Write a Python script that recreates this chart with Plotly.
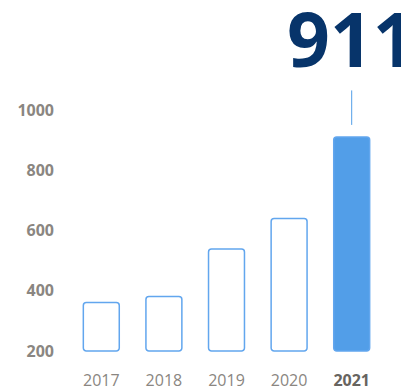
import plotly.graph_objects as go

# Yearly totals
years = ["2017", "2018", "2019", "2020", "2021"]
values = [361, 381, 539, 640, 911]
baseline = 200
y_ticks = [200, 400, 600, 800, 1000]

highlight_year = "2021"
highlight_value = 911

outline_blue = "#62a6ee"
fill_blue = "#529ee8"
label_gray = "#8a8681"
navy = "#07346a"

fills = [fill_blue if y == highlight_year else "white" for y in years]
ticktext = [
    f"<span style='color:#67645f'><b>{y}</b></span>" if y == highlight_year else y
    for y in years
]
# category axes position annotations by serial index
highlight_idx = years.index(highlight_year)

fig = go.Figure(
    go.Bar(
        x=years,
        y=[v - baseline for v in values],
        base=baseline,
        marker=dict(color=fills, line=dict(color=outline_blue, width=1.5)),
        hoverinfo="skip",
    )
)

fig.add_annotation(
    x=highlight_idx,
    y=highlight_value,
    text=f"<b>{highlight_value}</b>",
    showarrow=True,
    arrowhead=0,
    arrowwidth=1,
    arrowcolor=fill_blue,
    ax=0,
    ay=-99,
    standoff=12,
    font=dict(family="Open Sans", size=75, color=navy, weight=800),
)

fig.update_layout(
    template="none",
    width=401,
    height=390,
    margin=dict(l=70, r=18, t=80, b=33),
    paper_bgcolor="white",
    plot_bgcolor="white",
    bargap=0.426,
    barcornerradius=3,
    showlegend=False,
    xaxis=dict(
        type="category",
        automargin=False,
        range=[-0.5, len(years) - 0.5],
        tickvals=years,
        ticktext=ticktext,
        tickangle=0,
        showgrid=False,
        zeroline=False,
        showline=False,
        ticks="",
        ticklabelstandoff=12,
        tickfont=dict(family="Open Sans", size=16, color=label_gray),
    ),
    yaxis=dict(
        automargin=False,
        range=[180, 1100],
        tickvals=y_ticks,
        showgrid=False,
        zeroline=False,
        showline=False,
        ticks="",
        ticklabelstandoff=15,
        tickfont=dict(family="Open Sans", size=16, color=label_gray, weight=700),
    ),
)

fig.write_html("out.html")
